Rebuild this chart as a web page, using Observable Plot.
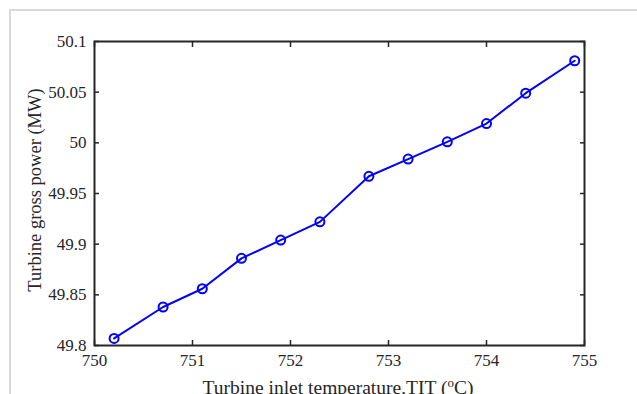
<!DOCTYPE html>
<html>
<head>
<meta charset="utf-8">
<script src="https://cdn.jsdelivr.net/npm/d3@7"></script>
<script src="https://cdn.jsdelivr.net/npm/@observablehq/plot@0.6"></script>
<style>
  html, body { margin: 0; padding: 0; background: #fff; }
  #wrap { position: relative; width: 637px; height: 394px; overflow: hidden; }
  #frame { position: absolute; left: 9px; top: 9px; width: 700px; height: 500px;
           border-top: 2px solid #d9d9d9; border-left: 2px solid #d9d9d9; }
  #chart { position: absolute; left: 0; top: 0; }
</style>
</head>
<body>
<div id="wrap"><div id="frame"></div><div id="chart"></div></div>
<script>
const tit = [750.2, 750.7, 751.1, 751.5, 751.9, 752.3, 752.8, 753.2, 753.6, 754.0, 754.4, 754.9];
const power = [49.807, 49.838, 49.856, 49.886, 49.904, 49.922, 49.967, 49.984, 50.001, 50.019, 50.049, 50.081];
const xTicks = [750, 751, 752, 753, 754, 755];
const yTicks = [49.8, 49.85, 49.9, 49.95, 50, 50.05, 50.1];
const xLabel = "Turbine inlet temperature,TIT (";
const xLabelSup = "o";
const xLabelEnd = "C)";
const yLabel = "Turbine gross power (MW)";

const data = tit.map((x, i) => ({x, y: power[i]}));
const font = "Liberation Serif";
const ink = "#262626";

const plot = Plot.plot({
  width: 637,
  height: 394,
  marginLeft: 94,
  marginRight: 53,
  marginTop: 41,
  marginBottom: 49,
  style: {fontFamily: font, fontSize: "17px", color: ink, background: "transparent", overflow: "visible"},
  x: {domain: [750, 755]},
  y: {domain: [49.8, 50.1]},
  marks: [
    Plot.axisX(xTicks, {anchor: "bottom", tickSize: -5, tickPadding: 13, label: null, stroke: ink, strokeWidth: 1.5, fill: ink, fontSize: 17, fontFamily: font}),
    Plot.axisX(xTicks, {anchor: "top", tickSize: -5, tickFormat: () => "", label: null, stroke: ink, strokeWidth: 1.5}),
    Plot.axisY(yTicks, {anchor: "left", tickSize: -5, tickPadding: 13, label: null, stroke: ink, strokeWidth: 1.5, fill: ink, fontSize: 17, fontFamily: font, tickFormat: d => String(d)}),
    Plot.axisY(yTicks, {anchor: "right", tickSize: -5, tickFormat: () => "", label: null, stroke: ink, strokeWidth: 1.5}),
    Plot.frame({stroke: ink, strokeWidth: 2}),
    Plot.line(data, {x: "x", y: "y", stroke: "#0000ff", strokeWidth: 2}),
    Plot.dot(data, {x: "x", y: "y", r: 4.5, stroke: "#0000ff", strokeWidth: 2, fill: "none"})
  ]
});

const svg = d3.select(plot);
svg.attr("font-family", font);
svg.selectAll("text").attr("font-family", font).style("font-family", font);

const t = svg.append("text")
  .attr("x", 338).attr("y", 394)
  .attr("text-anchor", "middle")
  .attr("font-family", font).attr("font-size", 19.5).attr("fill", ink);
t.append("tspan").text(xLabel);
t.append("tspan").attr("dy", -7).attr("font-size", 13).text(xLabelSup);
t.append("tspan").attr("dy", 7).text(xLabelEnd);

svg.append("text")
  .attr("transform", "translate(41,190) rotate(-90)")
  .attr("text-anchor", "middle")
  .attr("font-family", font).attr("font-size", 18.5).attr("fill", ink)
  .text(yLabel);

document.getElementById("chart").appendChild(plot);
</script>
</body>
</html>
